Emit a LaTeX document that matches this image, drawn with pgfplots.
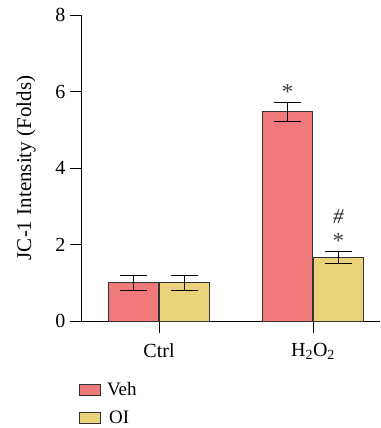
\documentclass[border=0pt]{standalone}
\usepackage{fontspec}
\setmainfont{Liberation Serif}
\usepackage{pgfplots}
\pgfplotsset{compat=1.18}
\definecolor{veh}{HTML}{F07A7A}
\definecolor{oi}{HTML}{E9D27A}
\definecolor{edge}{HTML}{333333}
\pgfplotsset{myerr/.style={
  error bars/y dir=both, error bars/y explicit,
  error bars/error mark options={rotate=90, mark size=13.5pt, line width=1.2pt, black},
  error bars/error bar style={line width=1.2pt, black}}}
\begin{document}
\begin{tikzpicture}
\useasboundingbox (-82pt,-107pt) rectangle (298pt,321pt);
\begin{axis}[
  scale only axis, width=298pt, height=306pt,
  xmin=-0.5, xmax=1.435, ymin=0, ymax=8,
  axis lines*=left,
  axis line style={line width=1pt, black},
  xtick={0,1}, xticklabels={Ctrl, H\textsubscript{2}O\textsubscript{2}},
  ytick={0,2,4,6,8},
  tick align=outside, major tick length=12pt,
  tick style={black, line width=1pt},
  /pgf/number format/assume math mode=true,
  tick label style={font=\fontsize{20}{24}\selectfont},
  yticklabel style={xshift=-1pt},
  xticklabel style={yshift=-7pt},
  ylabel={JC-1 Intensity (Folds)},
  ylabel style={font=\fontsize{21}{24}\selectfont, yshift=13pt},
  ybar, bar width=0.325, bar shift=0pt,
  legend style={at={(axis description cs:0,0)}, anchor=north west, yshift=-58pt, xshift=-4pt,
    draw=none, fill=none, font=\fontsize{19}{20}\selectfont, inner sep=1pt, row sep=10pt, cells={anchor=west}},
  legend image code/.code={\draw[#1] (0pt,-5.5pt) rectangle (21pt,5.5pt);},
  legend cell align=left,
]
\addplot[fill=veh, draw=edge, line width=0.9pt, myerr] coordinates {(-0.165,1.0) +- (0,0.2) (0.835,5.47) +- (0,0.25)};
\addplot[fill=oi, draw=edge, line width=0.9pt, myerr] coordinates {(0.165,1.0) +- (0,0.2) (1.165,1.66) +- (0,0.15)};
\legend{\hspace{4pt}Veh, \hspace{6pt}OI}
\node[font=\fontsize{23}{24}\selectfont, text=black!75] at (axis cs:0.835,6.0) {*};
\node[font=\fontsize{23}{24}\selectfont, text=black!75] at (axis cs:1.165,2.1) {*};
\node[font=\fontsize{21}{24}\selectfont, text=black!85] at (axis cs:1.165,2.72) {\textit{\#}};
\end{axis}
\end{tikzpicture}
\end{document}
